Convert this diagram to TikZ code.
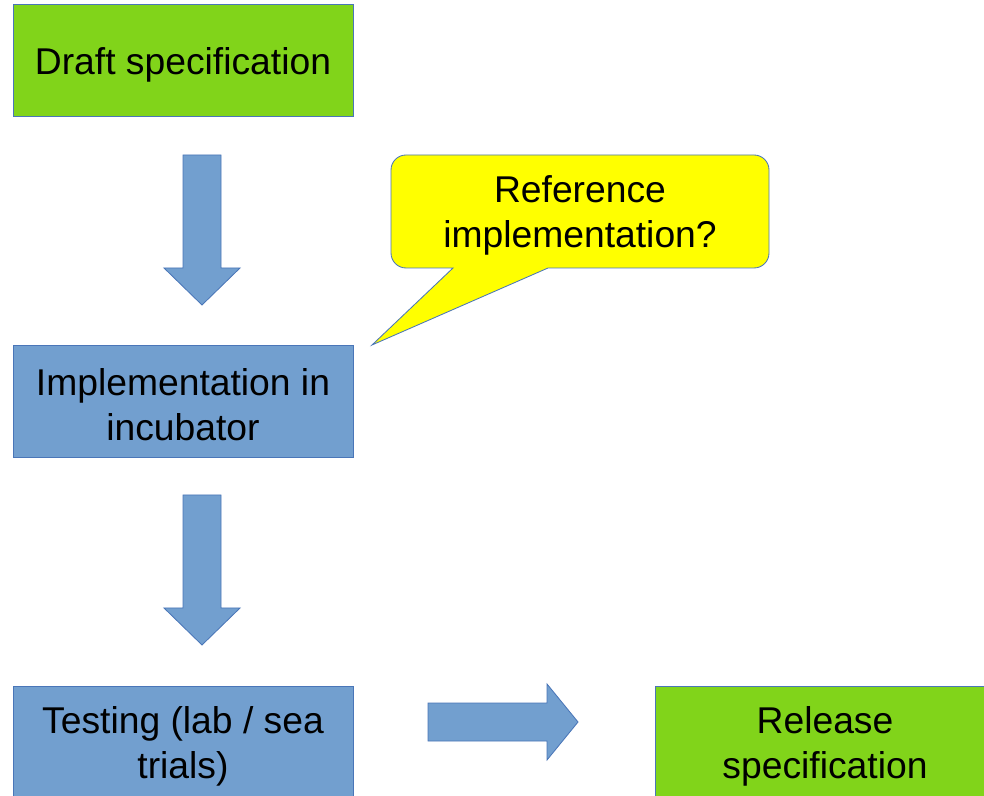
\documentclass[tikz,border=0pt]{standalone}
\usepackage{fontspec}
\setmainfont{Liberation Sans}
\definecolor{boxgreen}{HTML}{81D41A}
\definecolor{boxblue}{HTML}{729FCF}
\definecolor{edgeblue}{HTML}{4A76B8}
\definecolor{callyellow}{HTML}{FFFF00}
\begin{document}
\begin{tikzpicture}[x=0.025cm,y=0.025cm,
  box/.style={draw=edgeblue, line width=0.6pt, minimum width=340*0.025cm, minimum height=112*0.025cm, inner sep=0pt},
  greenbox/.style={box, fill=boxgreen},
  bluebox/.style={box, fill=boxblue},
  boxtext/.style={align=center, inner sep=0pt, yshift=-4*0.025cm, font=\fontsize{26.5}{32}\selectfont},
  blockarrow/.style={draw=edgeblue, line width=0.6pt, fill=boxblue, line join=miter},
  callout/.style={draw=edgeblue, line width=0.6pt, fill=callyellow}]
\clip (0,0) rectangle (984,795);
\fill[white] (0,0) rectangle (984,795);
% boxes
\node[greenbox] (draft) at (183,734.5) {};
\node[boxtext] (draftt) at (draft.center) {Draft specification};
\node[bluebox] (impl) at (183,394) {};
\node[boxtext] (implt) at (impl.center) {Implementation in\\incubator};
\node[bluebox] (test) at (183,53) {};
\node[boxtext] (testt) at (test.center) {Testing (lab / sea\\trials)};
\node[greenbox] (rel) at (825,53) {};
\node[boxtext] (relt) at (rel.center) {Release\\specification};
% down arrows
\draw[blockarrow] (183,640) -- (221,640) -- (221,527) -- (240,527) -- (202,490) -- (164,527) -- (183,527) -- cycle;
\draw[blockarrow] (183,300) -- (221,300) -- (221,187) -- (240,187) -- (202,150) -- (164,187) -- (183,187) -- cycle;
% right arrow
\draw[blockarrow] (428,92) -- (547,92) -- (547,111) -- (578,73) -- (547,35) -- (547,54) -- (428,54) -- cycle;
% callout
\draw[callout] (453,527) -- (372,450) -- (548,527) -- (754,527) arc(-90:0:15) -- (769,625) arc(0:90:15) -- (406,640) arc(90:180:15) -- (391,542) arc(180:270:15) -- cycle;
\coordinate (callc) at (580,583.5);
\node[boxtext] (ref) at (callc) {Reference\\implementation?};
\end{tikzpicture}
\end{document}
